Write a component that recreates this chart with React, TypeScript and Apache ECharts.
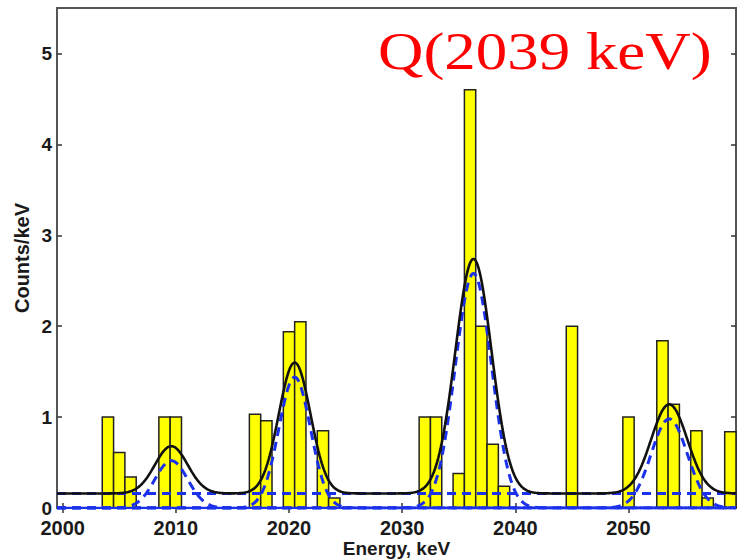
import React, { useEffect, useRef } from "react";
import * as echarts from "echarts";

// Histogram bins (1 keV wide, centred on the integer energy)
const binEnergies = [2004, 2005, 2006, 2009, 2010, 2017, 2018, 2020, 2021, 2023, 2024, 2032, 2033, 2035, 2036, 2037, 2038, 2039, 2045, 2050, 2053, 2054, 2056, 2057, 2059];
const binCounts = [1.0, 0.61, 0.34, 1.0, 1.0, 1.03, 0.96, 1.94, 2.05, 0.85, 0.11, 1.0, 1.0, 0.38, 4.6, 2.0, 0.7, 0.24, 2.0, 1.0, 1.84, 1.14, 0.85, 0.11, 0.84];

// Fitted Gaussian lines on a flat background
const peakCenters = [2009.6, 2020.5, 2036.3, 2053.6];
const peakAmplitudes = [0.52, 1.44, 2.58, 0.98];
const peakSigmas = [1.45, 1.4, 1.6, 1.6];
const background = 0.16;

const xTicks = [2000, 2010, 2020, 2030, 2040, 2050];
const yTicks = [0, 1, 2, 3, 4, 5];

const X_MIN = 1999.5;
const X_MAX = 2059.5;
const STEP = 0.1;

const energyGrid: number[] = [];
for (let e = X_MIN; e <= X_MAX + 1e-9; e += STEP) energyGrid.push(+e.toFixed(2));

const gauss = (e: number, i: number) =>
  peakAmplitudes[i] * Math.exp(-0.5 * Math.pow((e - peakCenters[i]) / peakSigmas[i], 2));

const totalFit = energyGrid.map((e) => [e, background + peakCenters.reduce((s, _c, i) => s + gauss(e, i), 0)]);
const peakComponents = peakCenters.map((_c, i) => energyGrid.map((e) => [e, gauss(e, i)]));
const backgroundLine = [[X_MIN, background], [X_MAX, background]];
const zeroLine = [[X_MIN, 0], [X_MAX, 0]];

const BLUE = "#1b30ea";
const AXIS_FONT = "Liberation Sans, Arial, sans-serif";

export default function App() {
  const ref = useRef<HTMLDivElement>(null);

  useEffect(() => {
    if (!ref.current) return;
    const chart = echarts.init(ref.current, undefined, { renderer: "svg" });

    const dashed = {
      color: BLUE,
      width: 3,
      type: [9, 6] as any,
    };

    const tickStyle = { color: "#333", width: 1.5 };

    chart.setOption({
      animation: false,
      backgroundColor: "#ffffff",
      grid: {
        left: 57,
        right: 3,
        top: 8,
        bottom: 51,
        outerBoundsMode: "none",
        containLabel: false,
        show: true,
        borderColor: "#555",
        borderWidth: 2,
        backgroundColor: "transparent",
      },
      xAxis: [
        {
          type: "value",
          min: X_MIN,
          max: X_MAX,
          position: "bottom",
          name: "Energy, keV",
          nameLocation: "middle",
          nameGap: 31,
          nameMoveOverlap: false,
          nameTextStyle: { fontFamily: AXIS_FONT, fontWeight: "bold", fontSize: 19, color: "#1a1a1a" },
          axisLine: { show: false },
          splitLine: { show: false },
          axisTick: { show: true, inside: true, length: 5, customValues: xTicks, lineStyle: tickStyle },
          axisLabel: {
            customValues: xTicks,
            formatter: (v: number) => String(Math.round(v)),
            margin: 10,
            fontFamily: AXIS_FONT,
            fontWeight: "bold",
            fontSize: 20,
            color: "#1a1a1a",
          },
        },
        {
          type: "value",
          min: X_MIN,
          max: X_MAX,
          position: "top",
          axisLine: { show: false },
          splitLine: { show: false },
          axisTick: { show: true, inside: true, length: 5, customValues: xTicks, lineStyle: tickStyle },
          axisLabel: { show: false },
        },
      ],
      yAxis: [
        {
          type: "value",
          min: 0,
          max: 5.5,
          position: "left",
          name: "Counts/keV",
          nameLocation: "middle",
          nameGap: 25,
          nameMoveOverlap: false,
          nameTextStyle: { fontFamily: AXIS_FONT, fontWeight: "bold", fontSize: 20, color: "#1a1a1a" },
          axisLine: { show: false },
          splitLine: { show: false },
          axisTick: { show: true, inside: true, length: 5, customValues: yTicks, lineStyle: tickStyle },
          axisLabel: {
            customValues: yTicks,
            formatter: (v: number) => String(Math.round(v)),
            margin: 5,
            fontFamily: AXIS_FONT,
            fontWeight: "bold",
            fontSize: 19,
            color: "#1a1a1a",
          },
        },
        {
          type: "value",
          min: 0,
          max: 5.5,
          position: "right",
          axisLine: { show: false },
          splitLine: { show: false },
          axisTick: { show: true, inside: true, length: 5, customValues: yTicks, lineStyle: tickStyle },
          axisLabel: { show: false },
        },
      ],
      series: [
        {
          type: "custom",
          name: "counts",
          xAxisIndex: 0,
          yAxisIndex: 0,
          z: 1,
          encode: { x: 0, y: 1 },
          data: binEnergies.map((e, i) => [e, binCounts[i]]),
          renderItem: (_params: any, api: any) => {
            const e = api.value(0);
            const h = api.value(1);
            const p0 = api.coord([e - 0.5, h]);
            const p1 = api.coord([e + 0.5, 0]);
            return {
              type: "rect",
              shape: { x: p0[0], y: p0[1], width: p1[0] - p0[0], height: p1[1] - p0[1] },
              style: { fill: "#ffff00", stroke: "#222", lineWidth: 1.5 },
            };
          },
        },
        {
          type: "line",
          name: "background",
          z: 3,
          data: backgroundLine,
          showSymbol: false,
          lineStyle: dashed,
        },
        ...peakComponents.map((comp, i) => ({
          type: "line",
          name: "peak " + (i + 1),
          z: 3,
          data: comp,
          showSymbol: false,
          lineStyle: dashed,
        })),
        {
          type: "line",
          name: "zero",
          z: 4,
          data: zeroLine,
          showSymbol: false,
          lineStyle: { color: BLUE, width: 2.5 },
        },
        {
          type: "line",
          name: "fit",
          z: 5,
          data: totalFit,
          showSymbol: false,
          lineStyle: { color: "#111", width: 2.6 },
        },
      ],
      graphic: [
        {
          type: "text",
          x: 378,
          y: 51,
          scaleX: 1.21,
          z: 10,
          style: {
            text: "Q(2039 keV)",
            font: '52px "Liberation Serif", "Times New Roman", serif',
            fill: "#ff0000",
            align: "left",
            verticalAlign: "middle",
          },
        },
      ],
    });

    return () => chart.dispose();
  }, []);

  return <div ref={ref} style={{ width: 739, height: 559, position: "absolute", left: 0, top: 0 }} />;
}
